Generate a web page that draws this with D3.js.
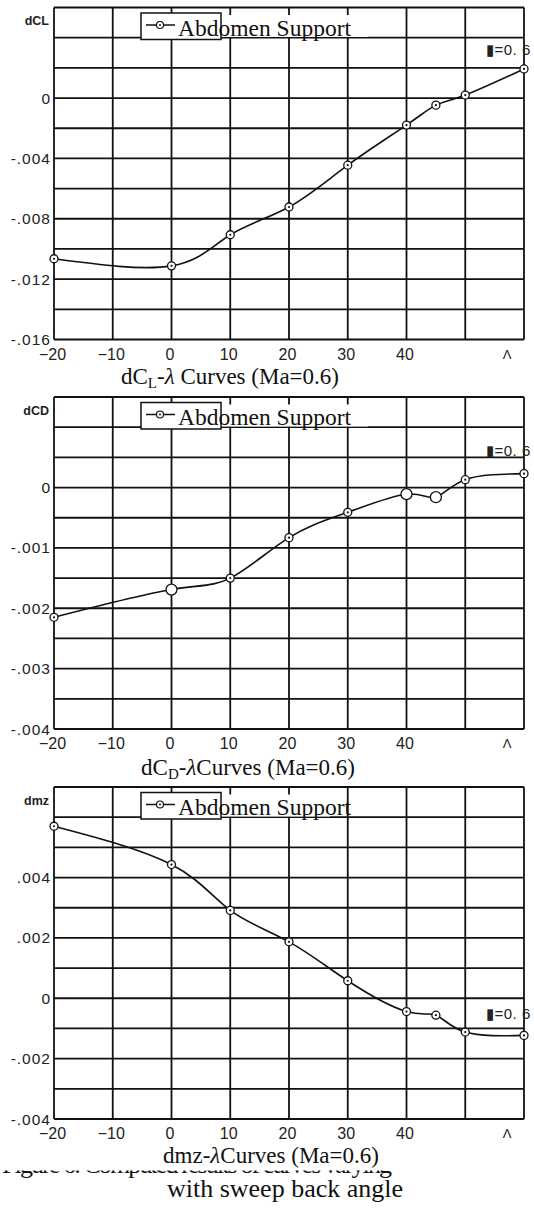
<!DOCTYPE html>
<html><head><meta charset="utf-8">
<script src="https://cdn.jsdelivr.net/npm/d3@7"></script>
<style>body{margin:0;background:#fff}svg{display:block}</style>
</head><body>
<svg id="c" width="534" height="1208"></svg>
<script>
// ---- data ----
const lambdaVals = [-20, 0, 10, 20, 30, 40, 45, 50, 60];
const dCL = [-0.01065, -0.01112, -0.00906, -0.00722, -0.00445, -0.00179, -0.00047, 0.0002, 0.00193];
const dCD = [-0.00215, -0.00169, -0.00150, -0.00083, -0.00041, -0.00011, -0.00016, 0.00013, 0.00023];
const dmz = [0.0057, 0.00443, 0.00291, 0.00187, 0.00058, -0.00044, -0.00056, -0.00112, -0.00123];
const xTickVals = [-20, -10, 0, 10, 20, 30, 40];
const xTickLabels = ["\u221220", "\u221210", "0", "10", "20", "30", "40"];
const dCLTickVals = [0, -0.004, -0.008, -0.012, -0.016];
const dCLTickLabels = ["0", "-.004", "-.008", "-.012", "-.016"];
const dCDTickVals = [0, -0.001, -0.002, -0.003, -0.004];
const dCDTickLabels = ["0", "-.001", "-.002", "-.003", "-.004"];
const dmzTickVals = [0.004, 0.002, 0, -0.002, -0.004];
const dmzTickLabels = [".004", ".002", "0", "-.002", "-.004"];
const seriesName = "Abdomen Support";
const machLabel = "\u25AE=0. 6";
const xAxisName = "\u039B";
const figLine1 = "Figure 6.  Computed results of curves varying";
const figLine2 = "with sweep back angle";

// ---- layout ----
const svg = d3.select("#c");
const L = 54, R = 524, H = 332;
const x = d3.scaleLinear().domain([-20, 60]).range([L, R]);
const xGrid = d3.range(-20, 61, 10);

const charts = [
  {top: 7.5, domain: [-0.016, 0.006], step: 0.002, values: dCL, ticks: dCLTickVals, tickLabels: dCLTickLabels,
   yName: "dCL", caption: [["dC"], ["L", "sub"], ["-", "up"], ["\u03BB", "it"], [" Curves (Ma=0.6)"]], capX: 230, capY: 384,
   maOff: 47.5, big: [], bgRight: 368},
  {top: 397, domain: [-0.004, 0.0015], step: 0.0005, values: dCD, ticks: dCDTickVals, tickLabels: dCDTickLabels,
   yName: "dCD", caption: [["dC"], ["D", "sub"], ["-", "up"], ["\u03BB", "it"], ["Curves (Ma=0.6)"]], capX: 248, capY: 775,
   maOff: 59, big: [1, 5, 6], bgRight: 368},
  {top: 787, domain: [-0.004, 0.007], step: 0.001, values: dmz, ticks: dmzTickVals, tickLabels: dmzTickLabels,
   yName: "dmz", caption: [["dmz-"], ["\u03BB", "it"], ["Curves (Ma=0.6)"]], capX: 271, capY: 1163,
   maOff: 232, big: [], bgRight: 330}
];

charts.forEach(c => {
  const y = d3.scaleLinear().domain(c.domain).range([c.top + H, c.top]);
  const g = svg.append("g");
  const n = Math.round((c.domain[1] - c.domain[0]) / c.step);
  const yGrid = d3.range(0, n + 1).map(i => c.domain[0] + i * c.step);

  g.selectAll("line.h").data(yGrid).join("line")
    .attr("x1", L).attr("x2", R).attr("y1", d => y(d)).attr("y2", d => y(d))
    .attr("stroke", "#111").attr("stroke-width", 1.8);
  g.selectAll("line.v").data(xGrid).join("line")
    .attr("y1", c.top).attr("y2", c.top + H).attr("x1", d => x(d)).attr("x2", d => x(d))
    .attr("stroke", "#111").attr("stroke-width", 1.8);

  // curve
  const line = d3.line().x((d, i) => x(lambdaVals[i])).y(d => y(d)).curve(d3.curveNatural);
  g.append("path").datum(c.values).attr("d", line)
    .attr("fill", "none").attr("stroke", "#111").attr("stroke-width", 1.6);

  // markers
  c.values.forEach((v, i) => {
    const big = c.big.includes(i);
    g.append("circle").attr("cx", x(lambdaVals[i])).attr("cy", y(v)).attr("r", big ? 5.5 : 4)
      .attr("fill", "#fff").attr("stroke", "#111").attr("stroke-width", 1.3);
    if (!big) g.append("circle").attr("cx", x(lambdaVals[i])).attr("cy", y(v)).attr("r", 1.1).attr("fill", "#111");
  });

  // legend
  const lt = c.top + 5.5;
  g.append("rect").attr("x", 221).attr("y", lt + 2).attr("width", c.bgRight - 221).attr("height", 22).attr("fill", "#fff");
  g.append("rect").attr("x", 141).attr("y", lt).attr("width", 80).attr("height", 26.5)
    .attr("fill", "#fff").attr("stroke", "#111").attr("stroke-width", 1.5);
  g.append("line").attr("x1", 146).attr("x2", 175).attr("y1", lt + 12).attr("y2", lt + 12)
    .attr("stroke", "#111").attr("stroke-width", 1.5);
  g.append("circle").attr("cx", 160).attr("cy", lt + 12).attr("r", 3.5).attr("fill", "#fff").attr("stroke", "#111").attr("stroke-width", 1.2);
  g.append("circle").attr("cx", 160).attr("cy", lt + 12).attr("r", 1).attr("fill", "#111");
  g.append("text").attr("x", 178).attr("y", c.top + 28).text(seriesName)
    .attr("font-family", "Liberation Serif").attr("font-size", 23.5).attr("fill", "#111");

  // y tick labels
  g.selectAll("text.yt").data(c.ticks).join("text")
    .attr("x", 51).attr("y", d => y(d) + 5.5).attr("text-anchor", "end")
    .attr("font-family", "Liberation Sans").attr("font-size", 15.5).attr("letter-spacing", 1)
    .attr("fill", "#222").text((d, i) => c.tickLabels[i]);
  g.append("text").attr("x", 49).attr("y", c.top + 17.5).attr("text-anchor", "end")
    .attr("font-family", "Liberation Sans").attr("font-weight", "bold").attr("font-size", 12.5)
    .attr("fill", "#222").text(c.yName);

  // x tick labels
  g.selectAll("text.xt").data(xTickVals).join("text")
    .attr("x", d => x(d) - 1.5).attr("y", c.top + H + 20).attr("text-anchor", "middle")
    .attr("font-family", "Liberation Sans").attr("font-size", 16).attr("fill", "#222")
    .text((d, i) => xTickLabels[i]);
  g.append("text").attr("x", 507).attr("y", c.top + H + 19).attr("text-anchor", "middle")
    .attr("font-family", "Liberation Sans").attr("font-size", 13).attr("fill", "#222").text(xAxisName);

  // Mach label
  g.append("text").attr("x", 486).attr("y", c.top + c.maOff)
    .attr("font-family", "Liberation Sans").attr("font-size", 15).attr("letter-spacing", 0.5)
    .attr("fill", "#222").text(machLabel);

  // caption
  const t = g.append("text").attr("x", c.capX).attr("y", c.capY).attr("text-anchor", "middle")
    .attr("font-family", "Liberation Serif").attr("font-size", 23).attr("fill", "#111");
  c.caption.forEach(p => {
    const ts = t.append("tspan").text(p[0]);
    if (p[1] === "sub") ts.attr("font-size", 15).attr("dy", 4);
    if (p[1] === "up") ts.attr("dy", -4);
    if (p[1] === "it") ts.attr("font-style", "italic");
  });
});

// figure caption (first line clipped at top)
svg.append("clipPath").attr("id", "clipL").append("rect").attr("x", 0).attr("y", 1170.5).attr("width", 534).attr("height", 9);
svg.append("text").attr("x", 2).attr("y", 1173).attr("clip-path", "url(#clipL)")
  .attr("font-family", "Liberation Serif").attr("font-size", 26).attr("textLength", 390).attr("lengthAdjust", "spacing")
  .attr("fill", "#111").text(figLine1);
svg.append("text").attr("x", 285).attr("y", 1197).attr("text-anchor", "middle")
  .attr("font-family", "Liberation Serif").attr("font-size", 26).attr("fill", "#111").text(figLine2);
</script>
</body></html>
